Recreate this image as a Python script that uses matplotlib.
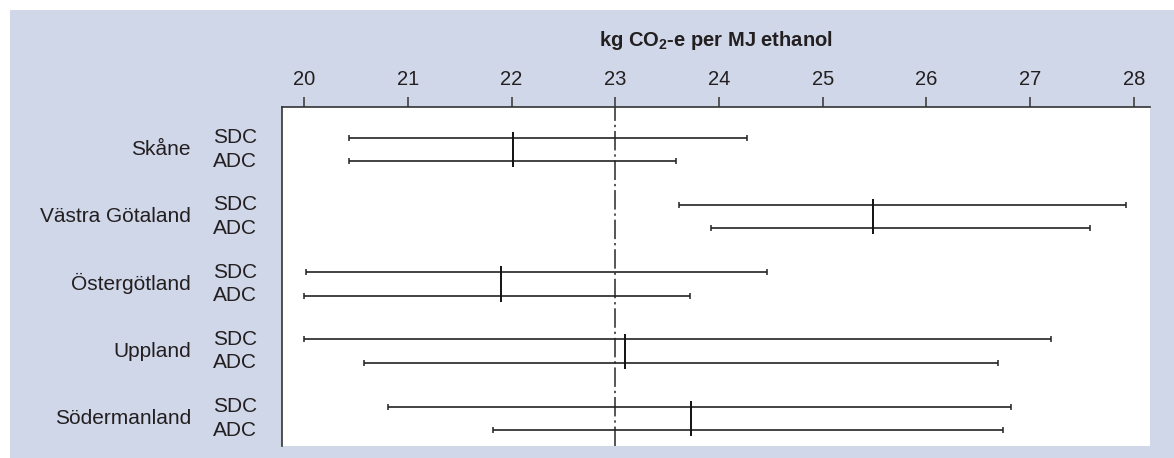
import matplotlib
matplotlib.use("Agg")
import matplotlib.pyplot as plt
import numpy as np
from matplotlib.patches import Rectangle

plt.rcParams["font.family"] = ["Liberation Sans", "DejaVu Sans"]
plt.rcParams["mathtext.fontset"] = "custom"
plt.rcParams["mathtext.rm"] = "Liberation Sans"
plt.rcParams["mathtext.bf"] = "Liberation Sans:bold"

# values (kg CO2-e per MJ ethanol)
regions = ["Skåne", "Västra Götaland", "Östergötland", "Uppland", "Södermanland"]
systems = ["SDC", "ADC"]
sdc_low = [20.43, 23.61, 20.02, 20.00, 20.81]
sdc_high = [24.27, 27.92, 24.46, 27.20, 26.81]
adc_low = [20.43, 23.92, 20.00, 20.58, 21.82]
adc_high = [23.59, 27.58, 23.72, 26.69, 26.74]
centre = [22.01, 25.48, 21.90, 23.09, 23.73]
reference = 23.0
x_ticks = [20, 21, 22, 23, 24, 25, 26, 27, 28]

W, H = 1174, 458
fig = plt.figure(figsize=(W / 100, H / 100), dpi=100)
fig.patch.set_facecolor("white")
fig.patches.append(
    Rectangle((10 / W, 0), 1, 1 - 10 / H, transform=fig.transFigure,
              facecolor="#d0d7e9", edgecolor="none", zorder=-10)
)

ax = fig.add_axes([281.7 / W, 1 - 445.7 / H, (1150 - 281.7) / W, (445.7 - 106.7) / H])
ax.set_facecolor("white")

line_col = "#222222"
half = 0.174
group_pos = np.arange(len(regions))
sdc_y = group_pos - half
adc_y = group_pos + half

for ys, lo, hi in [(sdc_y, sdc_low, sdc_high), (adc_y, adc_low, adc_high)]:
    lo = np.array(lo)
    hi = np.array(hi)
    ax.errorbar((lo + hi) / 2, ys, xerr=(hi - lo) / 2, fmt="none",
                ecolor=line_col, elinewidth=1.2, capsize=2.2, capthick=1.1,
                zorder=3)

ax.vlines(centre, group_pos - 0.263, group_pos + 0.263, color="#111111",
          linewidth=1.4, zorder=4)

ax.axvline(reference, color="#555555", linewidth=1.4,
           linestyle=(0, (10, 2, 1.2, 2)), zorder=2)

ax.set_xlim(20 - 22.3 / 103.75, 28 + 16 / 103.75)
ax.set_ylim(4 + 27.2 / 67.3, -42.6 / 67.3)

ax.xaxis.tick_top()
ax.set_xticks(x_ticks)
ax.set_xticklabels([str(t) for t in x_ticks])
ax.tick_params(axis="x", direction="out", length=7.5, width=1.1,
               color="#333333", labelsize=14.5, labelcolor="#231f20", pad=5)
ax.set_yticks([])

for side in ["right", "bottom"]:
    ax.spines[side].set_visible(False)
for side in ["left", "top"]:
    ax.spines[side].set_color("#333333")
    ax.spines[side].set_linewidth(1.2)

trans = ax.get_yaxis_transform()
for i, name in enumerate(regions):
    ax.text(-0.1045, group_pos[i], name, transform=trans, ha="right",
            va="center", fontsize=15, color="#231f20")
    ax.text(-0.0788, sdc_y[i], systems[0], transform=trans, ha="left",
            va="center", fontsize=15, color="#231f20")
    ax.text(-0.0788, adc_y[i], systems[1], transform=trans, ha="left",
            va="center", fontsize=15, color="#231f20")

fig.text((281.7 + 1150) / 2 / W, 1 - 45.7 / H,
         r"kg CO$_\mathbf{2}$-e per MJ ethanol",
         ha="center", va="baseline", fontsize=14.5, fontweight="bold",
         color="#231f20")

fig.savefig("out.png", dpi=100)
